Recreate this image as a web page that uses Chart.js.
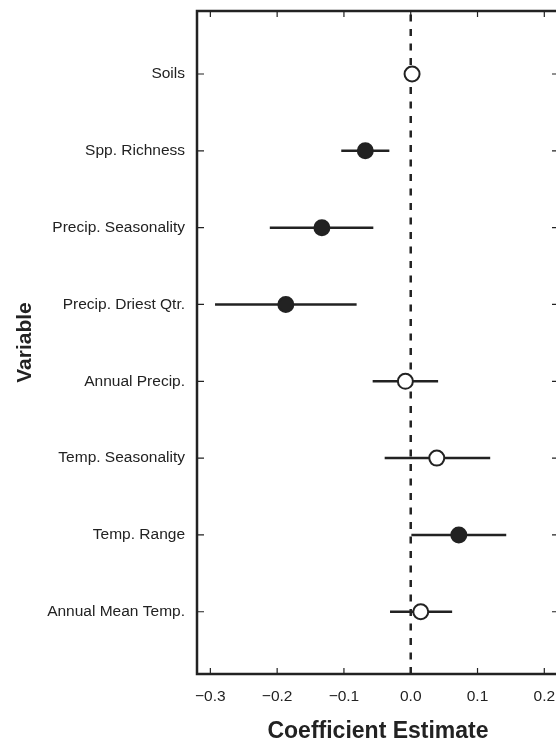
<!DOCTYPE html>
<html><head><meta charset="utf-8">
<script src="https://cdn.jsdelivr.net/npm/chart.js@4/dist/chart.umd.min.js"></script>
<style>
html,body{margin:0;padding:0;overflow:hidden;background:#fff;width:556px;height:742px}
#wrap{position:relative;width:600px;height:742px}
</style></head>
<body><div id="wrap"><canvas id="c" width="600" height="742"></canvas></div>
<script>
// ---- data (bottom row first) ----
const variables = ["Annual Mean Temp.","Temp. Range","Temp. Seasonality","Annual Precip.","Precip. Driest Qtr.","Precip. Seasonality","Spp. Richness","Soils"];
const estimates = [0.015, 0.072, 0.039, -0.008, -0.187, -0.133, -0.068, 0.002];
const lower     = [-0.031, 0.001, -0.039, -0.057, -0.293, -0.211, -0.104, -0.006];
const upper     = [0.062, 0.143, 0.119, 0.041, -0.081, -0.056, -0.032, 0.010];
const significant = [false, true, false, false, true, true, true, false];
const xTicks = [-0.3, -0.2, -0.1, 0.0, 0.1, 0.2];

const INK = '#222222';
const FONT = '"Liberation Sans", Arial, Helvetica, sans-serif';

const yMin = 0.19, yMax = 8.82;

const datasets = [];
datasets.push({
  label: 'estimate',
  data: estimates.map((v, i) => ({x: v, y: i + 1})),
  showLine: false,
  pointRadius: 7.5,
  pointHoverRadius: 7.5,
  pointBorderWidth: 2,
  pointBorderColor: INK,
  pointBackgroundColor: significant.map(s => s ? INK : '#ffffff'),
  order: 0
});
variables.forEach((name, i) => {
  datasets.push({
    label: name + ' CI',
    data: [{x: lower[i], y: i + 1}, {x: upper[i], y: i + 1}],
    showLine: true,
    borderColor: INK,
    borderWidth: 2.5,
    pointRadius: 0,
    order: 1
  });
});
datasets.push({
  label: 'zero',
  data: [{x: 0, y: yMin}, {x: 0, y: yMax}],
  showLine: true,
  borderColor: INK,
  borderWidth: 2.5,
  borderDash: [7, 7.5],
  pointRadius: 0,
  order: 2
});

const boxPlugin = {
  id: 'box',
  afterDraw(chart) {
    const {ctx, chartArea: a, scales} = chart;
    ctx.save();
    ctx.strokeStyle = INK;
    ctx.lineWidth = 2.5;
    ctx.strokeRect(a.left, a.top, a.right - a.left, a.bottom - a.top);
    ctx.lineWidth = 1.2;
    ctx.beginPath();
    xTicks.forEach(v => {
      const px = scales.x.getPixelForValue(v);
      ctx.moveTo(px, a.bottom); ctx.lineTo(px, a.bottom - 6);
      ctx.moveTo(px, a.top); ctx.lineTo(px, a.top + 6);
    });
    variables.forEach((_, i) => {
      const py = scales.y.getPixelForValue(i + 1);
      ctx.moveTo(a.left, py); ctx.lineTo(a.left + 7, py);
      ctx.moveTo(a.right, py); ctx.lineTo(a.right - 7, py);
    });
    ctx.stroke();
    ctx.restore();
  }
};

new Chart(document.getElementById('c'), {
  type: 'scatter',
  data: {datasets},
  options: {
    responsive: false,
    animation: false,
    devicePixelRatio: 1,
    layout: {padding: {top: 11, right: 41, left: 0, bottom: 0}},
    plugins: {legend: {display: false}, tooltip: {enabled: false}},
    scales: {
      x: {
        type: 'linear', min: -0.32, max: 0.222,
        grid: {display: false, drawTicks: false},
        border: {display: false},
        afterBuildTicks: s => { s.ticks = xTicks.map(v => ({value: v})); },
        afterFit: s => { s.height = 68; s.paddingLeft = 0; s.paddingRight = 0; },
        ticks: {
          color: INK, padding: 13,
          font: {family: FONT, size: 15.5},
          callback: v => (v < 0 ? '\u2212' : '') + Math.abs(v).toFixed(1)
        },
        title: {display: true, text: 'Coefficient Estimate', color: INK,
                font: {family: FONT, size: 23, weight: 'bold'}, padding: {top: 0, bottom: -3}}
      },
      y: {
        type: 'linear', min: yMin, max: yMax,
        grid: {display: false, drawTicks: false},
        border: {display: false},
        afterBuildTicks: s => { s.ticks = variables.map((_, i) => ({value: i + 1})); },
        afterFit: s => { s.width = 197; s.paddingTop = 0; s.paddingBottom = 0; },
        ticks: {
          color: INK, padding: 12,
          font: {family: FONT, size: 15.5},
          callback: v => variables[Math.round(v) - 1]
        },
        title: {display: true, text: 'Variable', color: INK,
                font: {family: FONT, size: 21, weight: 'bold'}, padding: {top: 13, bottom: 0}}
      }
    }
  },
  plugins: [boxPlugin]
});
</script>
</body></html>
